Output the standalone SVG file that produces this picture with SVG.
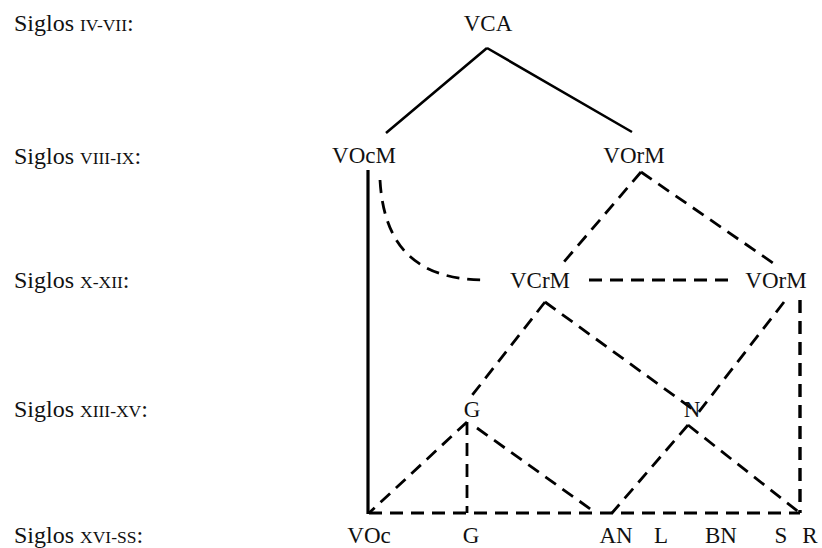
<svg xmlns="http://www.w3.org/2000/svg" width="822" height="548" viewBox="0 0 822 548">
<style>
text{font-family:"Liberation Serif","Times New Roman",serif;fill:#111;}
.row{font-size:24px;}
.sc{font-size:17.5px;}
.n{font-size:23px;text-anchor:middle;}
.solid{stroke:#000;stroke-width:2.6;fill:none;}
.thick{stroke:#000;stroke-width:3.2;fill:none;}
.dash{stroke:#000;stroke-width:2.8;fill:none;stroke-dasharray:13 8;}
.dashb{stroke:#000;stroke-width:3.4;fill:none;stroke-dasharray:13 8;}
</style>
<rect width="822" height="548" fill="#fff"/>
<g id="rows">
<text class="row" x="14" y="31">Siglos <tspan class="sc">IV-VII</tspan>:</text>
<text class="row" x="14" y="164">Siglos <tspan class="sc">VIII-IX</tspan>:</text>
<text class="row" x="14" y="288">Siglos <tspan class="sc">X-XII</tspan>:</text>
<text class="row" x="14" y="417">Siglos <tspan class="sc">XIII-XV</tspan>:</text>
<text class="row" x="14" y="543">Siglos <tspan class="sc">XVI-SS</tspan>:</text>
</g>
<g id="connectors">
<path class="solid" d="M487,48 L386,133 M487,48 L632,132"/>
<path class="thick" d="M368,170 L368,514"/>
<path class="dash" d="M380,180 C384,250 420,280 486,280"/>
<path class="dash" d="M641,172 L563,263 M641,172 L773,263"/>
<path class="dash" d="M589,280 L728,280"/>
<path class="dash" d="M545,302 L470,398"/>
<path class="dash" d="M545,302 L698,413"/>
<path class="dash" d="M784,302 L698,413"/>
<path class="dashb" d="M800,300 L800,513"/>
<path class="dash" d="M467,422 L369,513 M467,422 L467,513 M477,428 L596,513"/>
<path class="dash" d="M688,425 L612,513 M688,425 L800,513"/>
<path class="dash" d="M369,513 L800,513"/>
</g>
<g id="VCA"><text class="n" x="488" y="31">VCA</text></g>
<g id="VOcM"><text class="n" x="364" y="163">VOcM</text></g>
<g id="VOrM1"><text class="n" x="634" y="163">VOrM</text></g>
<g id="VCrM"><text class="n" x="540" y="288">VCrM</text></g>
<g id="VOrM2"><text class="n" x="776" y="288">VOrM</text></g>
<g id="G1"><text class="n" x="472" y="417">G</text></g>
<g id="N"><text class="n" x="692" y="417">N</text></g>
<g id="VOc"><text class="n" x="369" y="543">VOc</text></g>
<g id="G2"><text class="n" x="471" y="543">G</text></g>
<g id="AN"><text class="n" x="616" y="543">AN</text></g>
<g id="L"><text class="n" x="661" y="543">L</text></g>
<g id="BN"><text class="n" x="721" y="543">BN</text></g>
<g id="S"><text class="n" x="781" y="543">S</text></g>
<g id="R"><text class="n" x="810" y="543">R</text></g>
</svg>
